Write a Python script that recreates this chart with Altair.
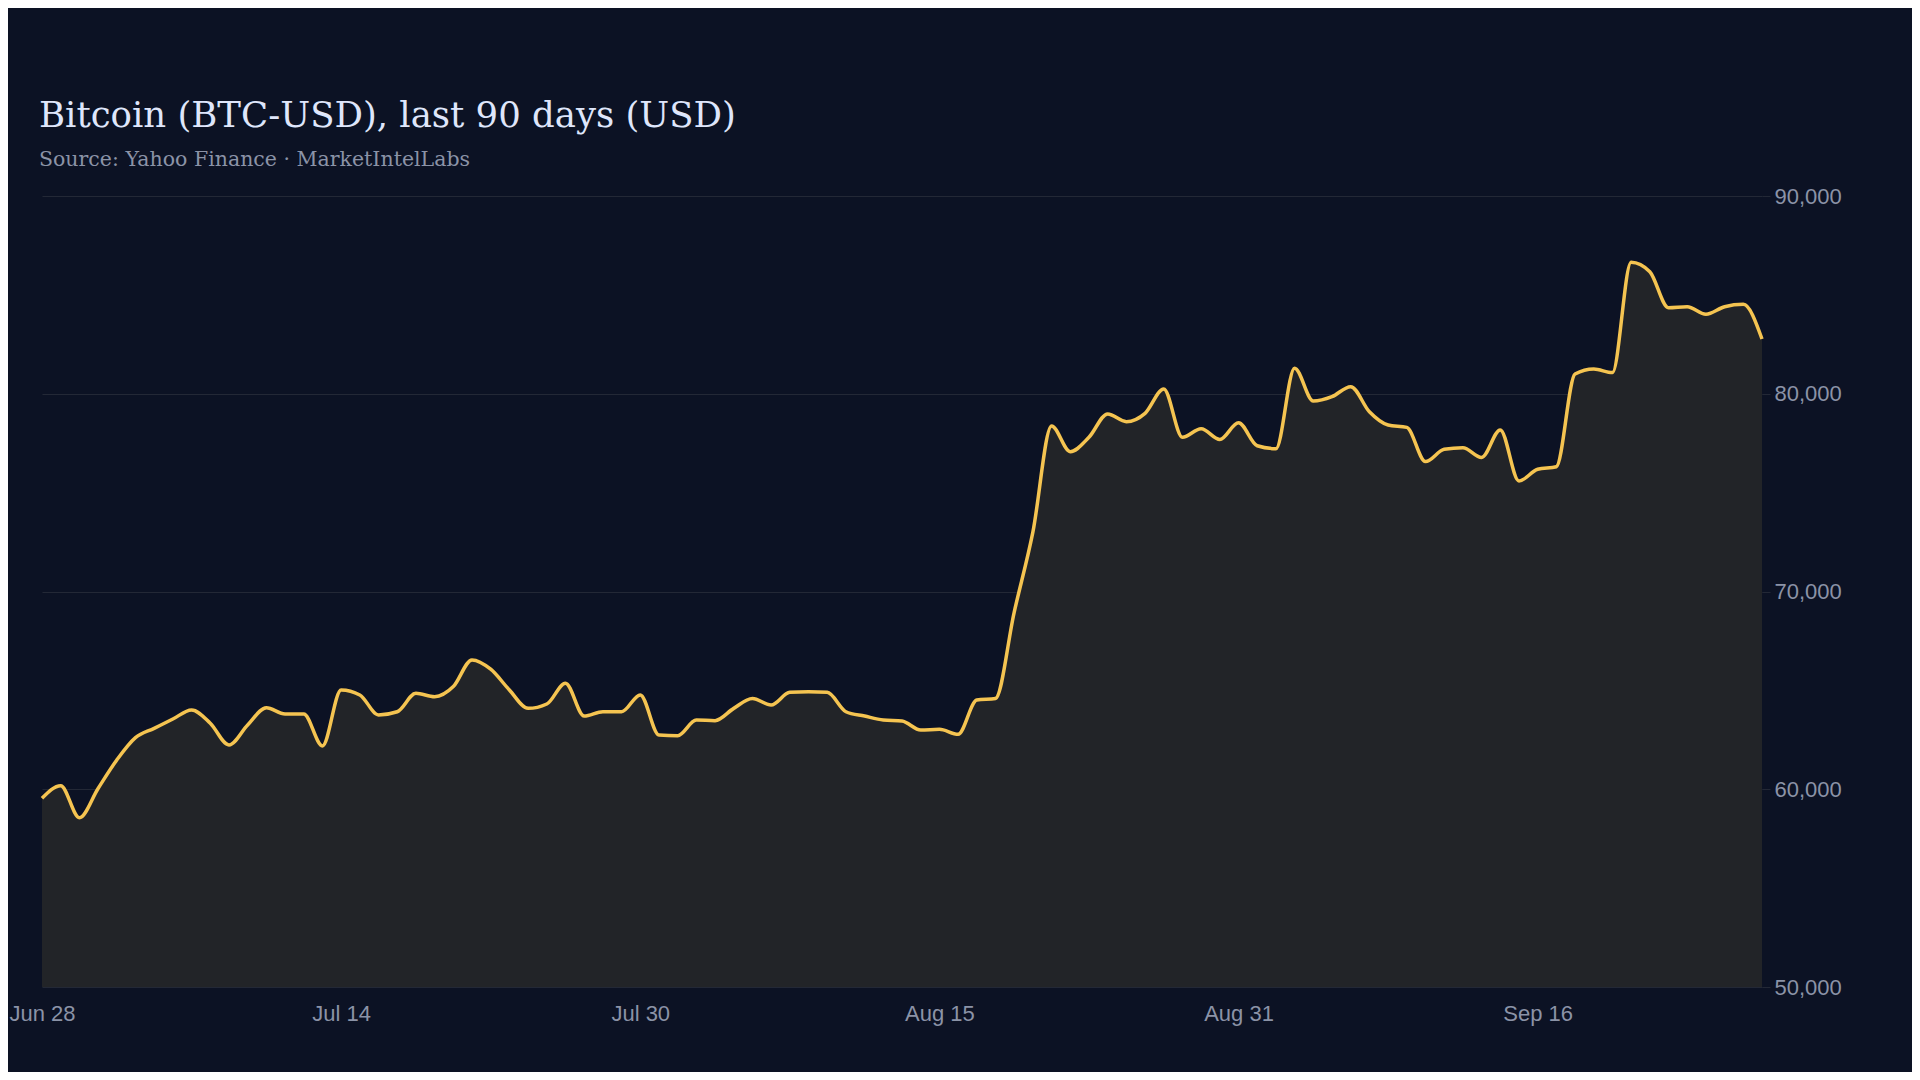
import altair as alt
import pandas as pd

# daily close, Jun 28 -> Sep 28
start_date = "2024-06-28"
close = [
    59540, 60180, 58560, 60040, 61480, 62610, 63080, 63550, 64010, 63340,
    62240, 63250, 64120, 63805, 63805, 62190, 65020, 64770, 63760, 63920,
    64850, 64680, 65190, 66540, 66070, 65020, 64090, 64310, 65360, 63700,
    63920, 63920, 64770, 62740, 62710, 63500, 63470, 64090, 64590, 64260,
    64900, 64930, 64900, 63920, 63700, 63500, 63450, 62990, 63030, 62780,
    64510, 64590, 68950, 73000, 78370, 77070, 77800, 78980, 78590, 79010,
    80240, 77800, 78230, 77690, 78530, 77370, 77220, 81290, 79630, 79850,
    80360, 79090, 78420, 78300, 76570, 77190, 77270, 76780, 78170, 75590,
    76180, 76310, 81000, 81250, 81070, 86650, 86170, 84350, 84400, 84020,
    84400, 84520, 82770,
]
x_ticks = ["2024-06-28", "2024-07-14", "2024-07-30", "2024-08-15", "2024-08-31", "2024-09-16"]
y_ticks = [50000, 60000, 70000, 80000, 90000]

dates = pd.date_range(start_date, periods=len(close), freq="D").strftime("%Y-%m-%dT00:00:00")
df = pd.DataFrame({"date": dates, "close": close})

tick_dates = [alt.DateTime(year=int(d[:4]), month=int(d[5:7]), date=int(d[8:])) for d in x_ticks]

bg = "#0c1224"
line_col = "#f5c451"
fill_col = "#222428"
grid_col = "#232836"
label_col = "#8b93a7"

x = alt.X(
    "date:T",
    title=None,
    scale=alt.Scale(nice=False),
    axis=alt.Axis(values=tick_dates, format="%b %d", grid=False, ticks=False,
                  domain=False, labelPadding=16, labelFlush=False),
)
y = alt.Y(
    "close:Q",
    title=None,
    scale=alt.Scale(domain=[50000, 90000], zero=False, nice=False),
    axis=alt.Axis(orient="right", values=y_ticks, format=",.0f", grid=True,
                  gridColor=grid_col, tickColor=grid_col, tickSize=8,
                  domain=False, labelPadding=4),
)

area = alt.Chart(df).mark_area(color=fill_col, interpolate="monotone").encode(
    x=x, y=y, y2=alt.datum(50000)
)
line = alt.Chart(df).mark_line(color=line_col, strokeWidth=3.5, interpolate="monotone").encode(
    x=x, y=y
)

chart = (area + line).properties(
    width=1904,
    height=1064,
    autosize=alt.AutoSizeParams(type="fit", contains="padding"),
    background=bg,
    padding={"left": 0, "top": 91, "right": 70, "bottom": 48},
    title=alt.TitleParams(
        text="Bitcoin (BTC-USD), last 90 days (USD)",
        subtitle="Source: Yahoo Finance · MarketIntelLabs",
        anchor="start",
        dx=30,
        font="DejaVu Serif",
        fontSize=35.5,
        fontWeight="normal",
        color="#dfe6fb",
        subtitleFont="DejaVu Serif",
        subtitleFontSize=20.5,
        subtitleColor=label_col,
        subtitlePadding=15,
        offset=15,
    ),
).configure_view(stroke=None).configure_axis(
    labelFont="Liberation Sans",
    labelFontSize=22,
    labelColor=label_col,
)

chart.save("out.html", embed_options={"renderer": "svg", "actions": False})
